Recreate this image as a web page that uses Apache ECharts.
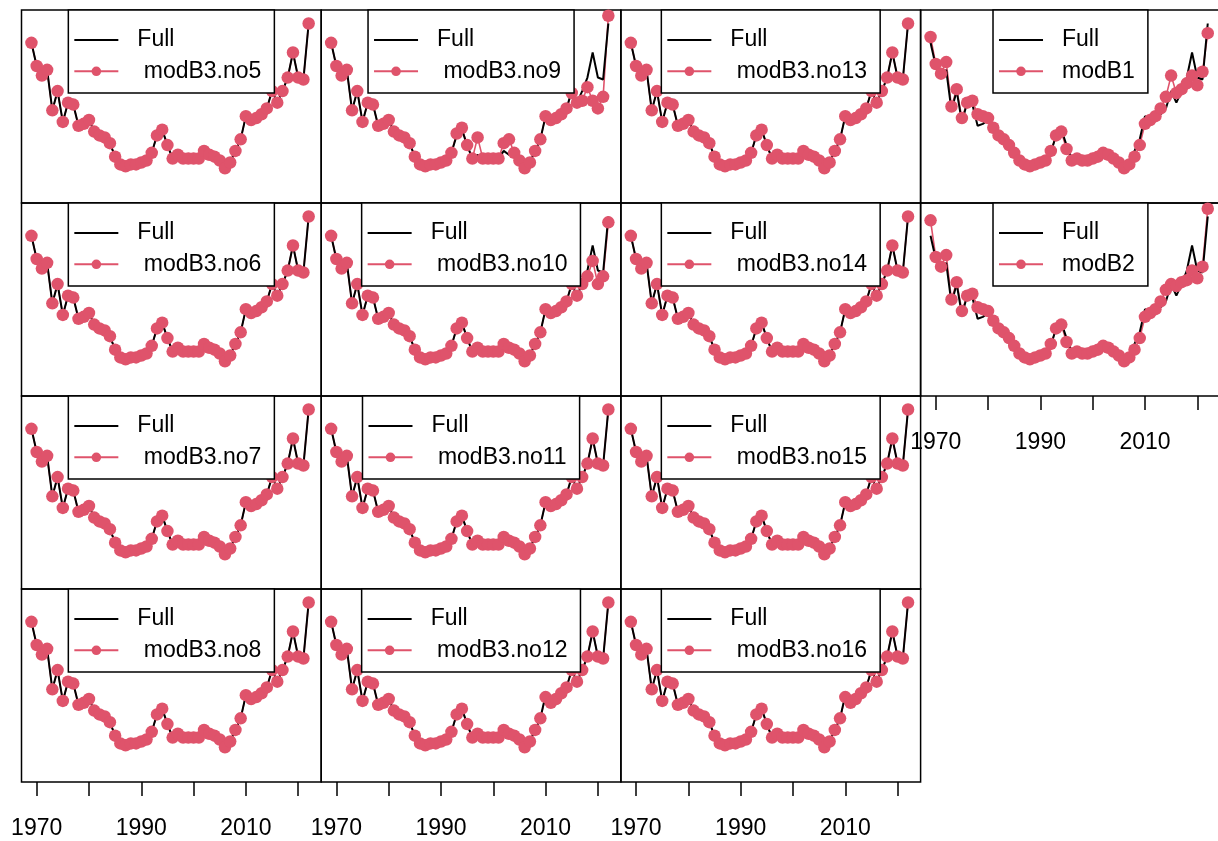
<!DOCTYPE html>
<html>
<head>
<meta charset="utf-8">
<script src="https://cdn.jsdelivr.net/npm/echarts@6/dist/echarts.min.js"></script>
<style>
  html, body { margin: 0; padding: 0; background: #fff; }
  #chart { width: 1218px; height: 841px; }
</style>
</head>
<body>
<div id="chart"></div>
<script>
// years of the series
const years = [1969, 1970, 1971, 1972, 1973, 1974, 1975, 1976, 1977, 1978,
  1979, 1980, 1981, 1982, 1983, 1984, 1985, 1986, 1987, 1988,
  1989, 1990, 1991, 1992, 1993, 1994, 1995, 1996, 1997, 1998,
  1999, 2000, 2001, 2002, 2003, 2004, 2005, 2006, 2007, 2008,
  2009, 2010, 2011, 2012, 2013, 2014, 2015, 2016, 2017, 2018,
  2019, 2020, 2021, 2022];

// full model (black)
const full = [83, 71, 66, 69, 48, 58, 42, 52, 51, 40,
  41, 43, 37, 35, 34, 31, 24, 20, 19, 20,
  20, 21, 22, 26, 35, 38, 30, 23, 25, 23,
  23, 23, 23, 27, 25, 24, 22, 18, 21, 27,
  33, 45, 43, 44, 46, 49, 58, 52, 58, 65,
  78, 65, 64, 93];

// reduced models (red)
const modB3_no5 = [83, 71, 66, 69, 48, 58, 42, 52, 51, 40,
  41, 43, 37, 35, 34, 31, 24, 20, 19, 20,
  20, 21, 22, 26, 35, 38, 30, 23, 25, 23,
  23, 23, 23, 27, 25, 24, 22, 18, 21, 27,
  33, 45, 43, 44, 46, 49, 58, 52, 58, 65,
  78, 65, 64, 93];
const modB3_no6 = modB3_no5.slice();
const modB3_no7 = modB3_no5.slice();
const modB3_no8 = modB3_no5.slice();
const modB3_no9 = [83, 71, 66, 69, 48, 58, 42, 52, 51, 40,
  41, 43, 37, 35, 34, 31, 24, 20, 19, 20,
  20, 21, 22, 26, 36, 39, 30, 23, 34, 23,
  23, 23, 23, 31, 33, 26, 22, 18, 21, 27,
  33, 45, 43, 44, 46, 49, 57, 52, 53, 60,
  53, 49, 55, 97];
const modB3_no10 = [83, 71, 66, 69, 48, 58, 42, 52, 51, 40,
  41, 43, 37, 35, 34, 31, 24, 20, 19, 20,
  20, 21, 22, 26, 35, 38, 30, 23, 25, 23,
  23, 23, 23, 27, 25, 24, 22, 18, 21, 27,
  33, 45, 43, 44, 46, 49, 58, 52, 58, 62,
  70, 58, 62, 90];
const modB3_no11 = modB3_no5.slice();
const modB3_no12 = [83, 71, 66, 69, 48, 58, 42, 52, 51, 40,
  41, 43, 37, 35, 34, 31, 24, 20, 19, 20,
  20, 21, 22, 26, 35, 38, 30, 23, 25, 23,
  23, 23, 23, 27, 25, 24, 22, 18, 21, 27,
  33, 44, 41, 43, 46, 49, 58, 52, 58, 65,
  78, 65, 64, 93];
const modB3_no13 = modB3_no5.slice();
const modB3_no14 = modB3_no5.slice();
const modB3_no15 = modB3_no5.slice();
const modB3_no16 = modB3_no12.slice();
const modB1 = [86, 72, 67, 73, 50, 59, 44, 52, 53, 46,
  45, 44, 39, 35, 33, 30, 26, 22, 20, 19,
  20, 21, 22, 27, 35, 37, 28, 22, 23, 22,
  22, 23, 24, 26, 25, 23, 21, 18, 20, 24,
  30, 41, 43, 45, 49, 55, 66, 57, 59, 62,
  66, 61, 68, 88];
const modB2 = [91, 72, 67, 73, 50, 59, 44, 52, 53, 46,
  45, 44, 39, 35, 33, 30, 26, 22, 20, 19,
  20, 21, 22, 27, 35, 37, 28, 22, 23, 22,
  22, 23, 24, 26, 25, 23, 21, 18, 20, 24,
  30, 41, 43, 45, 49, 55, 58, 57, 59, 60,
  65, 61, 67, 97];

// panels in column order
const panelNames = [' modB3.no5', ' modB3.no6', ' modB3.no7', ' modB3.no8',
  ' modB3.no9', ' modB3.no10', ' modB3.no11', ' modB3.no12',
  ' modB3.no13', ' modB3.no14', ' modB3.no15', ' modB3.no16',
  'modB1', 'modB2'];
const panelData = [modB3_no5, modB3_no6, modB3_no7, modB3_no8,
  modB3_no9, modB3_no10, modB3_no11, modB3_no12,
  modB3_no13, modB3_no14, modB3_no15, modB3_no16,
  modB1, modB2];
const tickYears = [1970, 1980, 1990, 2000, 2010, 2020];
const labelYears = [1970, 1990, 2010];

const RED = '#DF536B';
const FONT = 'Liberation Sans, Arial, sans-serif';
const FS = 23;

// layout
const left0 = 21.5, top0 = 10, pw = 299.7, ph = 193;
const measure = document.createElement('canvas').getContext('2d');
measure.font = FS + 'px "Liberation Sans"';

let grids = [], xAxes = [], yAxes = [], series = [], legends = [], graphics = [];
panelNames.forEach((name, i) => {
  const col = Math.floor(i / 4), row = i % 4;
  const gl = left0 + pw * col, gt = top0 + ph * row;
  const isBottom = (col < 3 && row === 3) || (col === 3 && row === 1);
  grids.push({ left: gl, top: gt, width: pw, height: ph, show: true,
    borderColor: '#000', borderWidth: 1.5, backgroundColor: 'transparent',
    outerBoundsMode: 'none' });
  xAxes.push({
    type: 'value', gridIndex: i, min: 1967.1, max: 2024.4,
    axisLine: { show: false }, splitLine: { show: false },
    axisTick: { show: isBottom, customValues: tickYears, length: 14,
      lineStyle: { color: '#000', width: 1.5 } },
    axisLabel: { show: isBottom, customValues: labelYears, margin: 35,
      formatter: v => String(v),
      fontSize: FS, color: '#000', fontFamily: FONT }
  });
  yAxes.push({ type: 'value', gridIndex: i, min: 0, max: 100, show: false,
    splitLine: { show: false } });

  const vals = panelData[i];
  // red connecting line, under the black line
  series.push({ type: 'line', name: name + '-seg', xAxisIndex: i, yAxisIndex: i,
    data: years.map((y, k) => [y, vals[k]]), symbol: 'none', silent: true,
    lineStyle: { color: RED, width: 1.6 }, z: 2, animation: false });
  // full model
  series.push({ type: 'line', name: 'Full', xAxisIndex: i, yAxisIndex: i,
    data: years.map((y, k) => [y, full[k]]), symbol: 'none',
    itemStyle: { color: '#000' },
    lineStyle: { color: '#000', width: 2 }, z: 3, animation: false });
  // red points on top
  series.push({ type: 'line', name: name, xAxisIndex: i, yAxisIndex: i,
    data: years.map((y, k) => [y, vals[k]]), symbol: 'circle', symbolSize: 12.5,
    showSymbol: true, itemStyle: { color: RED },
    lineStyle: { color: RED, width: 0, opacity: 0 }, z: 4, animation: false });

  // legend box
  const tw = Math.max(measure.measureText('Full').width, measure.measureText(name).width);
  const bw = tw + 82, bh = 83;
  const bl = gl + pw / 2 - bw / 2;
  graphics.push({ type: 'rect', shape: { x: bl, y: gt, width: bw, height: bh },
    style: { fill: '#fff', stroke: '#000', lineWidth: 1.5 }, z: 10 });
  legends.push({
    orient: 'vertical', left: bl + 5, top: gt + 16, padding: 0,
    itemWidth: 44, itemHeight: 12, itemGap: 3.3, selectedMode: false, z: 11,
    textStyle: { fontSize: FS, color: '#000', fontFamily: FONT, lineHeight: 24,
      padding: [4, 0, 0, 14] },
    data: [
      { name: 'Full', itemStyle: { color: '#000', opacity: 0 },
        lineStyle: { color: '#000', width: 2, opacity: 1 } },
      { name: name, itemStyle: { color: RED },
        lineStyle: { color: RED, width: 2, opacity: 1 } }
    ]
  });
});

const chart = echarts.init(document.getElementById('chart'), null, { renderer: 'canvas' });
chart.setOption({
  backgroundColor: '#fff',
  animation: false,
  grid: grids,
  xAxis: xAxes,
  yAxis: yAxes,
  legend: legends,
  graphic: graphics,
  series: series
});
</script>
</body>
</html>
